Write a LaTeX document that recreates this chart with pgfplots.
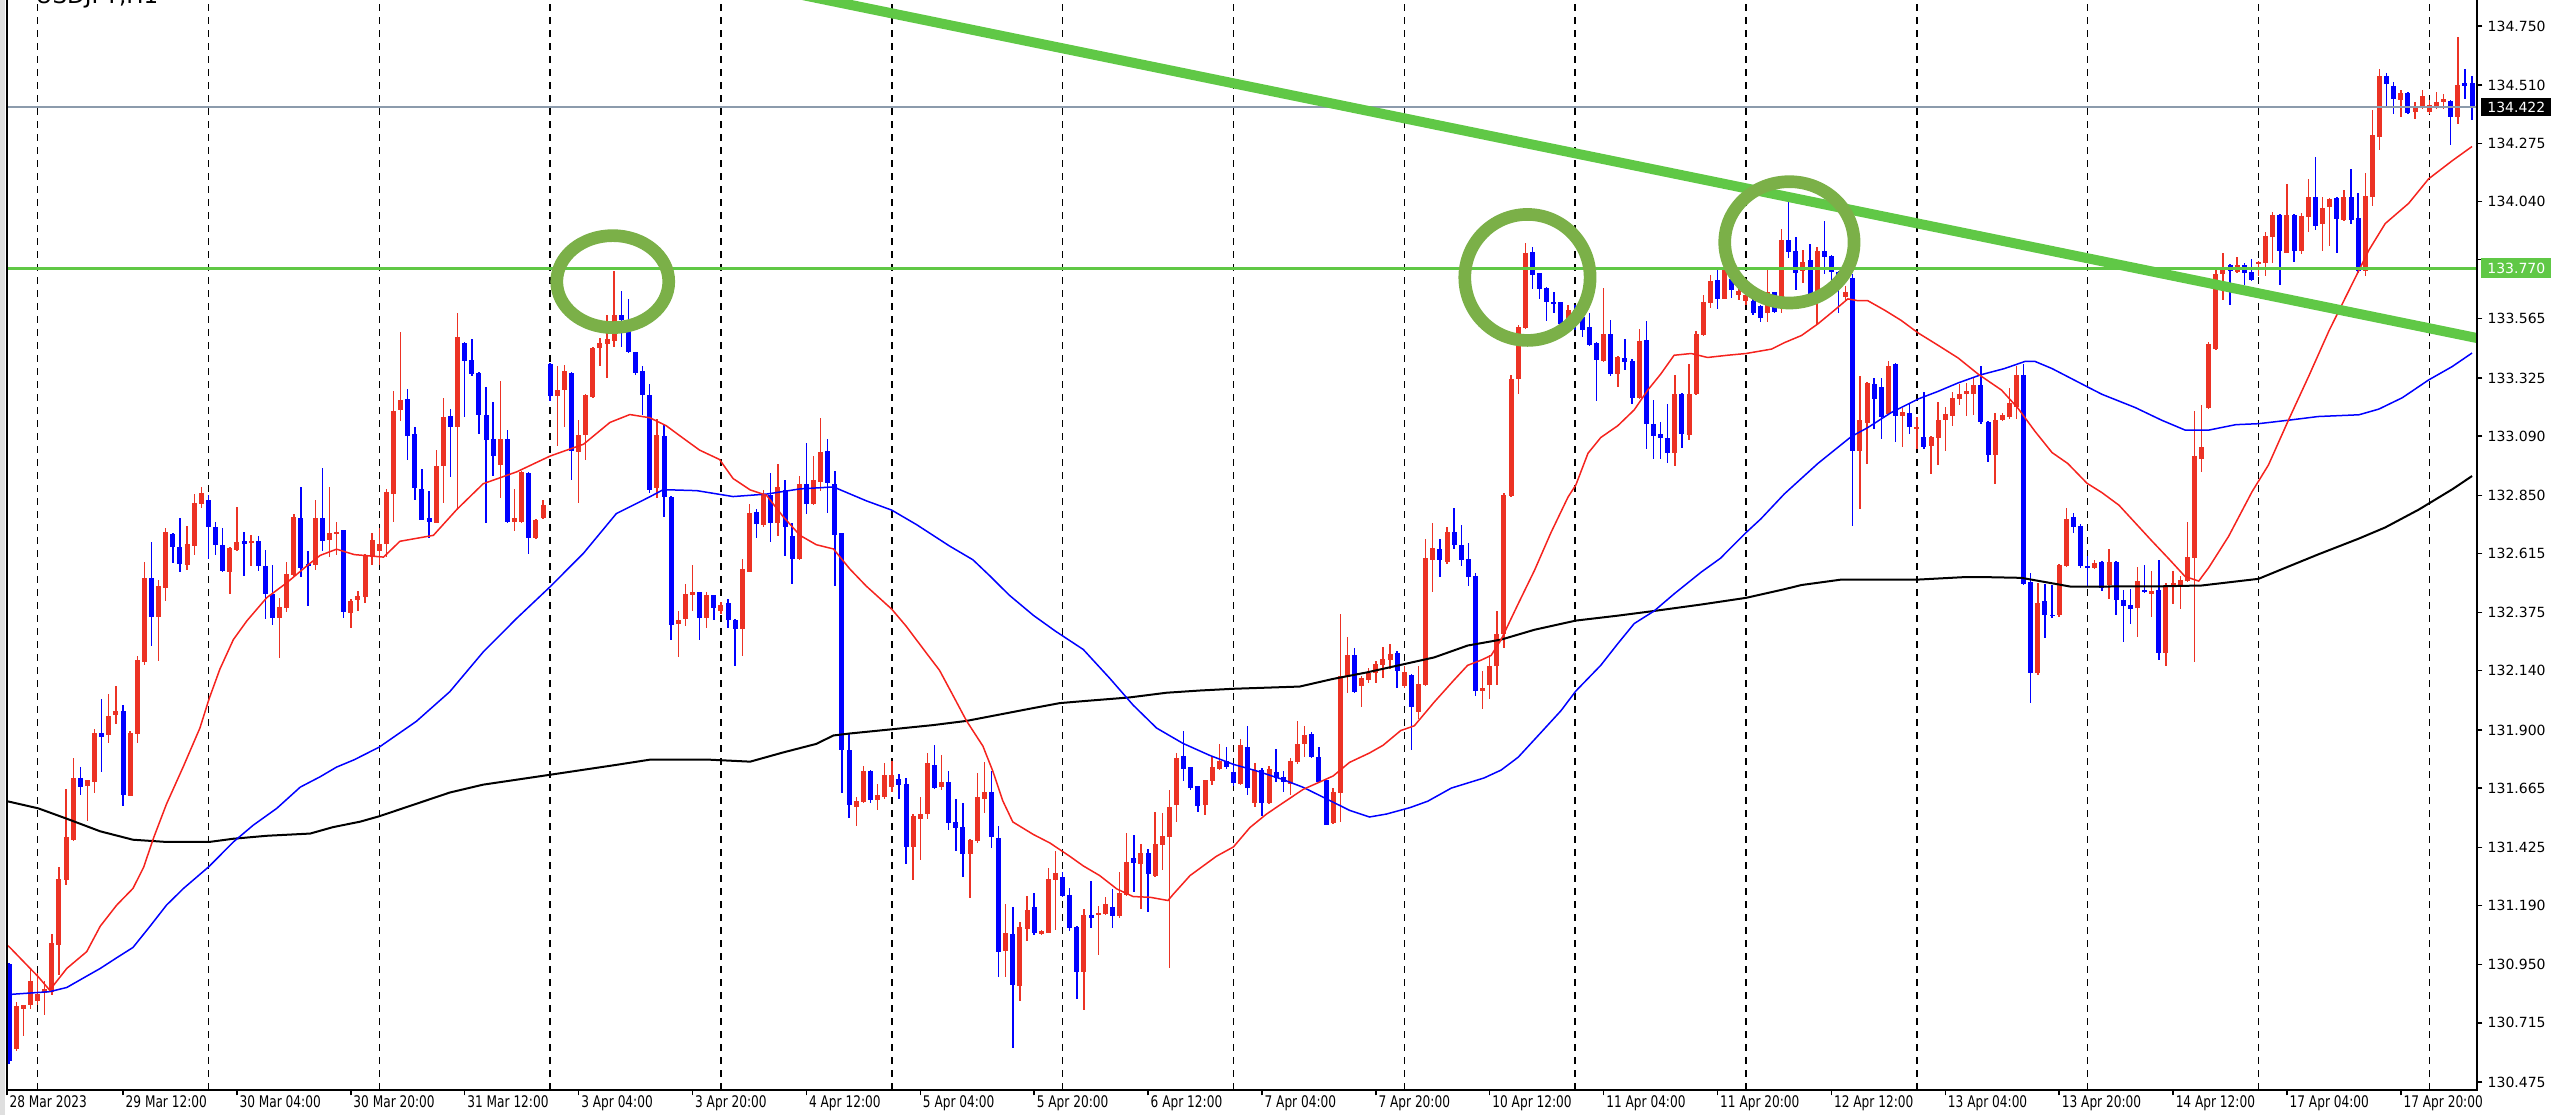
\documentclass[border=0pt]{standalone}
\usepackage{fontspec}
\setmainfont{DejaVu Sans}
\newfontfamily\xfont[FakeStretch=0.76]{DejaVu Sans}
\usepackage{pgfplots}
\pgfplotsset{compat=1.18}
\usepackage{pgfplotstable}
\definecolor{cred}{RGB}{236,50,36}
\definecolor{cblue}{RGB}{0,0,255}
\definecolor{mared}{RGB}{245,35,30}
\definecolor{hgreen}{RGB}{96,200,70}
\definecolor{egreen}{RGB}{123,176,72}
\definecolor{pline}{RGB}{140,155,172}
\newcommand\tfont{\fontsize{4.2pt}{5pt}\selectfont}
\newcommand\xtfont{\fontsize{4.8pt}{5.5pt}\selectfont}

\pgfplotstableread{
i o h l c
-4 130.952 130.960 130.550 130.560
-3 130.611 130.800 130.600 130.782
-2 130.773 130.790 130.662 130.790
-1 130.790 130.935 130.773 130.884
0 130.802 130.918 130.790 130.833
1 130.836 130.884 130.747 130.850
2 130.841 131.075 130.830 131.038
3 131.032 131.348 130.910 131.297
4 131.293 131.663 131.271 131.467
5 131.455 131.788 131.450 131.706
6 131.706 131.750 131.638 131.672
7 131.672 131.700 131.532 131.699
8 131.689 131.907 131.648 131.887
9 131.887 132.027 131.733 131.873
10 131.882 132.047 131.850 131.959
11 131.959 132.081 131.925 131.979
12 131.979 132.001 131.592 131.638
13 131.635 131.895 131.632 131.890
14 131.882 132.201 131.848 132.184
15 132.177 132.581 132.163 132.516
16 132.516 132.661 132.240 132.360
17 132.360 132.505 132.180 132.482
18 132.474 132.718 132.423 132.701
19 132.695 132.700 132.576 132.641
20 132.641 132.760 132.539 132.573
21 132.568 132.726 132.550 132.653
22 132.646 132.854 132.610 132.820
23 132.815 132.883 132.800 132.859
24 132.832 132.849 132.590 132.723
25 132.723 132.743 132.610 132.650
26 132.650 132.718 132.539 132.542
27 132.539 132.640 132.450 132.638
28 132.632 132.803 132.625 132.663
29 132.666 132.701 132.525 132.655
30 132.658 132.690 132.564 132.666
31 132.666 132.684 132.542 132.564
32 132.564 132.632 132.351 132.453
33 132.453 132.568 132.325 132.354
34 132.354 132.436 132.194 132.397
35 132.394 132.581 132.380 132.530
36 132.530 132.777 132.525 132.764
37 132.760 132.883 132.518 132.559
38 132.573 132.624 132.402 132.564
39 132.569 132.832 132.550 132.760
40 132.760 132.962 132.627 132.667
41 132.670 132.883 132.600 132.696
42 132.692 132.743 132.610 132.701
43 132.709 132.710 132.354 132.377
44 132.376 132.430 132.313 132.423
45 132.427 132.464 132.384 132.443
46 132.440 132.612 132.416 132.608
47 132.600 132.700 132.570 132.672
48 132.624 132.720 132.568 132.656
49 132.656 132.876 132.600 132.865
50 132.857 133.273 132.744 133.193
51 133.196 133.510 133.153 133.236
52 133.241 133.281 132.993 133.089
53 133.100 133.129 132.833 132.881
54 132.876 132.956 132.750 132.752
55 132.760 132.870 132.680 132.741
56 132.741 133.033 132.738 132.972
57 132.969 133.244 132.821 133.169
58 133.172 133.201 132.924 133.126
59 133.126 133.591 132.793 133.490
60 133.469 133.470 133.169 133.394
61 133.397 133.482 133.335 133.341
62 133.345 133.350 133.097 133.177
63 133.177 133.289 132.741 133.073
64 133.078 133.228 132.929 133.009
65 132.972 133.313 132.841 133.078
66 133.078 133.113 132.738 132.741
67 132.741 132.876 132.704 132.760
68 132.741 132.950 132.738 132.945
69 132.940 132.945 132.613 132.677
70 132.677 132.755 132.675 132.752
71 132.761 132.833 132.755 132.812
72 133.382 133.385 133.233 133.254
73 133.254 133.373 133.052 133.277
74 133.277 133.377 133.129 133.353
75 133.346 133.350 132.913 133.030
76 133.025 133.153 132.817 133.097
77 133.097 133.260 132.993 133.257
78 133.249 133.453 133.245 133.446
79 133.446 133.485 133.373 133.466
80 133.462 133.581 133.325 133.485
81 133.474 133.757 133.450 133.581
82 133.581 133.677 133.450 133.562
83 133.562 133.645 133.428 133.430
84 133.430 133.432 133.340 133.345
85 133.353 133.373 133.177 133.257
86 133.257 133.302 132.857 132.873
87 132.881 133.161 132.841 133.097
88 133.092 133.137 132.764 132.844
89 132.844 132.846 132.264 132.325
90 132.331 132.384 132.196 132.347
91 132.352 132.491 132.320 132.451
92 132.448 132.568 132.380 132.459
93 132.459 132.460 132.267 132.352
94 132.355 132.458 132.313 132.446
95 132.446 132.448 132.347 132.395
96 132.381 132.420 132.370 132.407
97 132.415 132.432 132.313 132.347
98 132.347 132.350 132.159 132.309
99 132.309 132.594 132.202 132.551
100 132.543 132.816 132.540 132.782
101 132.782 132.794 132.679 132.736
102 132.731 132.872 132.725 132.850
103 132.850 132.940 132.662 132.736
104 132.739 132.975 132.685 132.884
105 132.872 132.913 132.606 132.725
106 132.688 132.739 132.492 132.594
107 132.594 132.927 132.590 132.896
108 132.896 133.063 132.773 132.816
109 132.816 133.012 132.810 132.913
110 132.906 133.166 132.867 133.026
111 133.032 133.077 132.777 132.901
112 132.896 132.947 132.483 132.691
113 132.697 132.700 131.648 131.818
114 131.822 131.886 131.545 131.596
115 131.588 131.630 131.511 131.613
116 131.610 131.753 131.605 131.736
117 131.736 131.740 131.605 131.617
118 131.617 131.681 131.576 131.639
119 131.627 131.767 131.620 131.719
120 131.668 131.775 131.650 131.719
121 131.702 131.724 131.622 131.678
122 131.682 131.707 131.358 131.426
123 131.426 131.560 131.293 131.554
124 131.542 131.630 131.375 131.562
125 131.562 131.809 131.540 131.767
126 131.758 131.838 131.660 131.668
127 131.668 131.801 131.660 131.690
128 131.690 131.733 131.497 131.525
129 131.528 131.622 131.412 131.503
130 131.508 131.605 131.306 131.400
131 131.400 131.460 131.221 131.456
132 131.451 131.729 131.445 131.630
133 131.622 131.770 131.566 131.651
134 131.651 131.733 131.422 131.468
135 131.463 131.514 130.900 131.003
136 131.008 131.195 130.900 131.081
137 131.076 131.184 130.615 130.871
138 130.866 131.122 130.803 131.105
139 131.098 131.229 131.047 131.173
140 131.183 131.241 131.070 131.076
141 131.076 131.092 131.070 131.088
142 131.081 131.344 131.078 131.298
143 131.293 131.410 131.090 131.320
144 131.307 131.327 131.225 131.229
145 131.234 131.260 131.089 131.099
146 131.105 131.108 130.810 130.923
147 130.923 131.176 130.768 131.151
148 131.151 131.291 131.099 131.141
149 131.151 131.187 130.990 131.161
150 131.156 131.223 131.150 131.195
151 131.187 131.257 131.099 131.148
152 131.148 131.327 131.140 131.241
153 131.234 131.486 131.230 131.369
154 131.384 131.477 131.244 131.362
155 131.358 131.440 131.176 131.404
156 131.404 131.420 131.164 131.316
157 131.311 131.570 131.305 131.440
158 131.435 131.564 131.335 131.471
159 131.466 131.657 130.939 131.590
160 131.595 131.808 131.528 131.787
161 131.797 131.896 131.694 131.745
162 131.750 131.752 131.657 131.668
163 131.673 131.675 131.567 131.595
164 131.598 131.700 131.559 131.699
165 131.694 131.792 131.676 131.750
166 131.745 131.843 131.740 131.777
167 131.777 131.831 131.745 131.753
168 131.730 131.769 131.676 131.688
169 131.683 131.862 131.676 131.838
170 131.834 131.916 131.637 131.668
171 131.606 131.769 131.590 131.738
172 131.738 131.745 131.552 131.606
173 131.606 131.753 131.600 131.741
174 131.730 131.823 131.690 131.704
175 131.710 131.735 131.648 131.691
176 131.683 131.785 131.637 131.777
177 131.772 131.939 131.765 131.846
178 131.843 131.916 131.792 131.880
179 131.885 131.892 131.788 131.792
180 131.792 131.831 131.685 131.691
181 131.699 131.700 131.515 131.517
182 131.524 131.668 131.520 131.652
183 131.648 132.371 131.528 132.118
184 132.113 132.278 132.051 132.203
185 132.203 132.234 132.050 132.056
186 132.079 132.120 131.994 132.113
187 132.102 132.153 132.090 132.133
188 132.133 132.180 132.090 132.169
189 132.164 132.237 132.110 132.191
190 132.184 132.250 132.150 132.211
191 132.211 132.220 132.071 132.141
192 132.079 132.160 132.070 132.133
193 132.122 132.126 131.818 131.994
194 131.975 132.162 131.946 132.087
195 132.082 132.675 132.080 132.595
196 132.590 132.739 132.459 132.638
197 132.635 132.675 132.520 132.590
198 132.579 132.723 132.575 132.702
199 132.702 132.799 132.632 132.648
200 132.651 132.731 132.563 132.590
201 132.595 132.659 132.483 132.520
202 132.523 132.536 132.039 132.058
203 132.058 132.138 131.986 132.071
204 132.082 132.202 132.026 132.162
205 132.158 132.382 132.082 132.290
206 132.290 132.859 132.234 132.851
207 132.847 133.337 132.845 133.324
208 133.321 133.541 133.260 133.533
209 133.529 133.872 133.525 133.834
210 133.834 133.856 133.685 133.744
211 133.749 133.752 133.645 133.685
212 133.690 133.692 133.557 133.632
213 133.630 133.674 133.589 133.628
214 133.632 133.635 133.540 133.545
215 133.545 133.621 133.540 133.600
216 133.600 133.620 133.520 133.560
217 133.573 133.605 133.492 133.520
218 133.533 133.589 133.455 133.460
219 133.468 133.470 133.231 133.396
220 133.396 133.690 133.390 133.504
221 133.504 133.561 133.332 133.343
222 133.343 133.415 133.289 133.412
223 133.408 133.484 133.360 133.391
224 133.396 133.400 133.220 133.247
225 133.244 133.524 133.240 133.476
226 133.481 133.557 133.039 133.140
227 133.140 133.236 132.996 133.092
228 133.100 133.148 132.996 133.084
229 133.084 133.220 132.980 133.023
230 133.023 133.340 132.968 133.260
231 133.260 133.265 133.044 133.100
232 133.097 133.385 133.076 133.260
233 133.260 133.517 133.258 133.504
234 133.500 133.661 133.498 133.632
235 133.629 133.741 133.609 133.717
236 133.725 133.765 133.605 133.648
237 133.648 133.781 133.645 133.765
238 133.725 133.740 133.650 133.680
239 133.661 133.700 133.640 133.677
240 133.637 133.680 133.620 133.661
241 133.637 133.645 133.580 133.589
242 133.615 133.620 133.551 133.570
243 133.590 133.768 133.551 133.674
244 133.674 133.676 133.590 133.594
245 133.652 133.927 133.587 133.884
246 133.884 134.043 133.811 133.836
247 133.840 133.898 133.681 133.753
248 133.761 133.845 133.710 133.797
249 133.804 133.869 133.655 133.659
250 133.667 133.855 133.544 133.840
251 133.840 133.963 133.746 133.816
252 133.819 133.825 133.710 133.753
253 133.753 133.757 133.587 133.703
254 133.652 133.700 133.640 133.674
255 133.732 133.746 132.726 133.030
256 133.030 133.334 132.794 133.156
257 133.146 133.310 132.979 133.305
258 133.300 133.324 133.117 133.240
259 133.290 133.327 133.080 133.167
260 133.182 133.392 133.180 133.373
261 133.384 133.388 133.066 133.174
262 133.174 133.204 133.044 133.189
263 133.185 133.225 133.098 133.127
264 133.121 133.167 133.037 133.127
265 133.088 133.269 133.040 133.049
266 133.051 133.090 132.936 133.088
267 133.083 133.228 132.972 133.156
268 133.156 133.211 133.030 133.179
269 133.174 133.271 133.131 133.247
270 133.240 133.300 133.218 133.261
271 133.261 133.305 133.174 133.271
272 133.261 133.324 133.174 133.298
273 133.298 133.373 133.138 133.146
274 133.150 133.152 132.986 133.015
275 133.015 133.185 132.895 133.156
276 133.156 133.185 133.150 133.174
277 133.167 133.286 133.160 133.225
278 133.211 133.373 133.160 133.338
279 133.338 133.384 132.490 132.494
280 132.501 132.538 132.009 132.132
281 132.132 132.494 132.125 132.415
282 132.422 132.494 132.273 132.364
283 132.365 132.487 132.355 132.363
284 132.364 132.574 132.360 132.566
285 132.566 132.798 132.560 132.755
286 132.762 132.779 132.697 132.721
287 132.726 132.736 132.556 132.566
288 132.566 132.603 132.480 132.556
289 132.556 132.590 132.550 132.577
290 132.581 132.585 132.461 132.475
291 132.488 132.632 132.430 132.579
292 132.579 132.585 132.367 132.427
293 132.427 132.467 132.258 132.403
294 132.409 132.470 132.331 132.391
295 132.394 132.561 132.277 132.503
296 132.467 132.571 132.455 132.458
297 132.452 132.543 132.358 132.463
298 132.467 132.590 132.186 132.213
299 132.213 132.494 132.159 132.488
300 132.485 132.543 132.412 132.494
301 132.488 132.525 132.391 132.506
302 132.503 132.742 132.500 132.602
303 132.597 133.190 132.177 133.009
304 133.000 133.217 132.946 133.046
305 133.205 133.471 133.200 133.462
306 133.444 133.773 133.440 133.748
307 133.748 133.833 133.643 133.773
308 133.784 133.786 133.621 133.760
309 133.755 133.815 133.750 133.784
310 133.784 133.790 133.701 133.751
311 133.755 133.806 133.720 133.724
312 133.787 133.800 133.740 133.796
313 133.791 133.918 133.737 133.900
314 133.896 133.995 133.791 133.986
315 133.986 133.990 133.701 133.838
316 133.833 134.110 133.830 133.986
317 133.986 133.988 133.796 133.838
318 133.838 133.995 133.830 133.983
319 133.977 134.131 133.914 134.059
320 134.059 134.218 133.923 133.941
321 133.947 134.059 133.838 134.014
322 134.019 134.055 133.860 134.050
323 134.055 134.058 133.833 133.968
324 133.965 134.086 133.960 134.059
325 134.059 134.171 133.950 133.965
326 133.972 134.073 133.751 133.760
327 133.760 134.153 133.737 134.062
328 134.059 134.412 134.023 134.312
329 134.303 134.575 134.249 134.547
330 134.547 134.562 134.424 134.515
331 134.508 134.526 134.394 134.453
332 134.453 134.493 134.381 134.479
333 134.479 134.485 134.395 134.399
334 134.403 134.442 134.375 134.424
335 134.421 134.493 134.415 134.466
336 134.403 134.450 134.395 134.430
337 134.421 134.484 134.415 134.442
338 134.442 134.475 134.415 134.453
339 134.448 134.450 134.267 134.381
340 134.381 134.707 134.357 134.511
341 134.520 134.575 134.453 134.508
342 134.520 134.547 134.370 134.422
}\candles

\pgfplotstableread{
i v
-4.3 131.030
-3.9 131.020
0.1 130.901
1.7 130.847
4.1 130.935
6.9 131.003
8.8 131.106
11.1 131.191
13.4 131.259
14.9 131.345
16.3 131.464
18.1 131.600
20.5 131.754
22.8 131.908
24.1 132.027
25.6 132.146
27.5 132.266
29.4 132.342
32.2 132.436
35 132.496
37.8 132.564
39.7 132.607
42 132.632
44.5 132.610
48.6 132.600
50.9 132.664
55.6 132.688
58.9 132.793
62.6 132.897
67.3 132.945
72 133.009
76.7 133.057
80.4 133.145
83.2 133.177
86 133.164
88.3 133.132
90.7 133.081
93 133.033
95.8 132.995
97.7 132.918
100.1 132.872
102.4 132.850
104.7 132.765
107.1 132.688
109.4 132.650
111.8 132.633
114.1 132.552
116.4 132.483
120 132.389
122 132.321
124.9 132.210
126.7 132.142
128.6 132.040
130.5 131.937
132.8 131.835
134.2 131.733
135.6 131.613
137 131.528
139.9 131.477
142.2 131.443
145 131.389
146.9 131.350
149.2 131.311
151.6 131.257
153.9 131.226
156.3 131.223
158.8 131.210
159.5 131.234
161.9 131.311
165.6 131.389
168 131.427
170.3 131.505
172.6 131.559
175 131.606
177.8 131.660
179.6 131.683
182 131.714
184.3 131.769
187.1 131.807
189 131.838
191.5 131.898
193.4 131.917
196.2 132.013
199 132.103
200.9 132.162
202.8 132.183
204.2 132.202
205.6 132.266
208 132.411
210.3 132.547
212.6 132.699
215 132.843
216.1 132.892
217.8 133.020
219.6 133.084
222 133.132
224.3 133.196
226.2 133.276
228 133.340
229.9 133.417
232.3 133.424
234.6 133.408
237.4 133.417
240 133.424
243.6 133.442
245.4 133.468
247.8 133.497
250.1 133.544
252.5 133.601
254.3 133.645
255.7 133.638
257.1 133.638
259.5 133.599
261.8 133.558
264.2 133.507
267 133.457
269.8 133.406
272.6 133.341
275.9 133.276
278.2 133.203
280.6 133.109
283 133.023
285.2 132.979
287.9 132.899
290 132.861
292.4 132.810
294.7 132.738
297 132.666
299.4 132.593
301.7 132.521
303.6 132.503
305 132.557
307.8 132.684
311.1 132.865
313.4 132.973
316.2 133.154
319.1 133.335
321.9 133.516
324.7 133.679
327.5 133.842
329.8 133.950
333.1 134.032
335.9 134.131
339.2 134.204
342 134.262
}\mared

\pgfplotstableread{
i v
-4.3 130.829
1.7 130.841
4.1 130.858
6.9 130.904
8.8 130.935
11.1 130.978
13.4 131.020
15.8 131.106
18.1 131.191
20.5 131.259
24.1 131.348
27.5 131.447
30.3 131.515
33.6 131.583
36.9 131.669
39.7 131.711
42 131.750
44.5 131.780
48 131.831
53.2 131.935
57.9 132.055
62.6 132.216
67.3 132.352
72 132.480
76.7 132.616
81.3 132.776
86 132.844
87.9 132.873
92.6 132.869
97.7 132.845
102.4 132.855
107.1 132.876
111.8 132.884
116.4 132.828
120 132.790
123.5 132.731
128.1 132.645
131.4 132.589
133.7 132.526
136.5 132.446
139.9 132.364
143 132.300
146.9 132.226
150.6 132.110
153.9 132.001
157.2 131.908
160.9 131.846
164.7 131.797
168 131.761
171.2 131.735
175 131.699
177.8 131.668
181.1 131.621
184.3 131.575
187.1 131.548
189.5 131.560
192.8 131.586
195.3 131.612
198.6 131.665
203.2 131.706
205.6 131.738
208 131.790
211.2 131.890
214 131.978
216.1 132.058
219.6 132.162
222 132.250
224.3 132.331
227.1 132.382
229.9 132.451
233.7 132.539
236.4 132.595
240 132.699
242.1 132.755
245.4 132.856
250.1 132.979
254.8 133.088
257.1 133.124
260.4 133.185
264.2 133.240
267 133.271
269.8 133.305
273 133.338
276.3 133.363
279.2 133.392
280.6 133.392
283 133.363
287.9 133.290
290 133.259
294.7 133.205
298.4 133.154
301.7 133.114
305 133.114
308.8 133.136
312 133.140
316.2 133.154
320.4 133.169
326.1 133.176
328.9 133.199
332.2 133.245
335.9 133.317
339.2 133.371
342 133.426
}\mablue

\pgfplotstableread{
i v
-4.3 131.612
0.1 131.583
4.1 131.541
8.8 131.490
13.4 131.456
18.1 131.447
24.1 131.447
27.5 131.460
32.2 131.472
38.3 131.481
41.5 131.507
45.3 131.529
48 131.551
57.9 131.647
62.6 131.679
72 131.719
81.3 131.759
86 131.780
94.4 131.780
100.1 131.772
104.7 131.809
109.4 131.844
111.8 131.878
114.1 131.886
120 131.903
125.8 131.920
130.5 131.937
135.2 131.963
139.9 131.989
143.6 132.009
146.9 132.017
153.4 132.032
158.6 132.051
163.3 132.060
168 132.067
177.3 132.076
182 132.107
186.7 132.133
192 132.167
196.2 132.194
200.9 132.242
205.6 132.266
210.3 132.306
216.1 132.343
222 132.363
227.1 132.382
233.7 132.408
240 132.435
245.4 132.470
247.8 132.487
253.4 132.509
264.2 132.509
270.7 132.519
273.5 132.519
278.7 132.516
283 132.494
285.7 132.480
291.3 132.481
297 132.481
304 132.485
312 132.512
315.8 132.557
320.4 132.611
326.1 132.675
329.8 132.720
334.5 132.792
339.2 132.874
342 132.928
}\mablack

\pgfplotsset{
  wick/.style={draw=none, mark=none, forget plot, error bars/.cd, y dir=both, y explicit, error mark=none, error bar style={line width=0.42pt, draw=#1, solid}},
  body/.style={draw=none, mark=none, forget plot, error bars/.cd, y dir=both, y explicit, error mark=none, error bar style={line width=1.5pt, draw=#1, solid}},
}

\begin{document}
\begin{tikzpicture}[x=1pt,y=1pt]
\useasboundingbox (0,0) rectangle (768,334.5);
\fill[gray!25] (0,0) rectangle (1.4,334.5);
\begin{axis}[
  at={(2.1pt,7.5pt)}, anchor=south west,
  scale only axis, width=741pt, height=327pt,
  xmin=-4.3, xmax=342.7, ymin=130.443, ymax=134.855,
  axis line style={draw=none},
  tick align=outside, major tick length=1.6pt,
  tick style={black, line width=0.45pt},
  ytick={130.475,130.715,130.950,131.190,131.425,131.665,131.900,132.140,132.375,132.615,132.850,133.090,133.325,133.565,133.805,134.040,134.275,134.510,134.750},
  yticklabels={130.475,130.715,130.950,131.190,131.425,131.665,131.900,132.140,132.375,132.615,132.850,133.090,133.325,133.565,,134.040,134.275,134.510,134.750},
  ytick pos=right, yticklabel pos=right,
  yticklabel style={font=\tfont, anchor=west, inner sep=0pt, xshift=1.4pt},
  xtick={-4.3,12,28,44,60,76,92,108,124,140,156,172,188,204,220,236,252,268,284,300,316,332},
  xticklabels={28 Mar 2023,29 Mar 12:00,30 Mar 04:00,30 Mar 20:00,31 Mar 12:00,3 Apr 04:00,3 Apr 20:00,4 Apr 12:00,5 Apr 04:00,5 Apr 20:00,6 Apr 12:00,7 Apr 04:00,7 Apr 20:00,10 Apr 12:00,11 Apr 04:00,11 Apr 20:00,12 Apr 12:00,13 Apr 04:00,13 Apr 20:00,14 Apr 12:00,17 Apr 04:00,17 Apr 20:00},
  xtick pos=bottom, xticklabel pos=bottom,
  xticklabel style={font=\xfont\xtfont, anchor=north west, inner sep=0pt, xshift=0.6pt},
  minor xtick={0,24,48,72,96,120,144,168,192,216,240,264,288,312,336},
  minor tick length=0pt,
  xminorgrids=true,
  minor x grid style={black, line width=0.45pt, dash pattern=on 2pt off 1.9pt},
]
% wicks
\addplot[wick=cred] table[x expr={\thisrow{c}<\thisrow{o} ? nan : \thisrow{i}}, y expr={(\thisrow{h}+\thisrow{l})/2}, y error expr={(\thisrow{h}-\thisrow{l})/2}] {\candles};
\addplot[wick=cblue] table[x expr={\thisrow{c}<\thisrow{o} ? \thisrow{i} : nan}, y expr={(\thisrow{h}+\thisrow{l})/2}, y error expr={(\thisrow{h}-\thisrow{l})/2}] {\candles};
% bodies
\addplot[body=cred] table[x expr={\thisrow{c}<\thisrow{o} ? nan : \thisrow{i}}, y expr={(\thisrow{o}+\thisrow{c})/2}, y error expr={max(abs(\thisrow{c}-\thisrow{o})/2,0.0035)}] {\candles};
\addplot[body=cblue] table[x expr={\thisrow{c}<\thisrow{o} ? \thisrow{i} : nan}, y expr={(\thisrow{o}+\thisrow{c})/2}, y error expr={max(abs(\thisrow{c}-\thisrow{o})/2,0.0035)}] {\candles};
% moving averages
\addplot[black, line width=0.6pt, no marks] table[x=i,y=v] {\mablack};
\addplot[cblue, line width=0.45pt, no marks] table[x=i,y=v] {\mablue};
\addplot[mared, line width=0.45pt, no marks] table[x=i,y=v] {\mared};
% price line and levels
\addplot[pline, line width=0.45pt, no marks] coordinates {(-5,134.422) (345,134.422)};
\addplot[hgreen, line width=0.9pt, no marks] coordinates {(-5,133.770) (345,133.770)};
\addplot[hgreen, line width=3pt, no marks] coordinates {(100,134.919) (345,133.473)};
% circles
\draw[egreen, line width=3.8pt] (axis cs:80.8,133.715) ellipse [x radius=16.8pt, y radius=13.8pt];
\draw[egreen, line width=3.8pt] (axis cs:209.3,133.732) ellipse [x radius=18.8pt, y radius=18.9pt];
\draw[egreen, line width=3.8pt] (axis cs:246.1,133.874) ellipse [x radius=19.4pt, y radius=18.2pt];
\coordinate (p422) at (axis cs:0,134.422);
\coordinate (p770) at (axis cs:0,133.770);
\end{axis}
% frame
\draw[black, line width=0.5pt] (2.1,7.5) -- (2.1,334.5);
\draw[black, line width=0.5pt] (2.1,7.5) -- (743.1,7.5) -- (743.1,334.5);
\coordinate (R) at (744.2,0);
\node[fill=black, text=white, font=\tfont, inner sep=0pt, minimum width=21pt, minimum height=5.6pt, anchor=west] at (R |- p422) {134.422};
\node[fill=hgreen, text=white, font=\tfont, inner sep=0pt, minimum width=21pt, minimum height=6pt, anchor=west] at (R |- p770) {133.770};
\node[anchor=base west, font=\fontsize{6.9pt}{8pt}\selectfont, inner sep=0pt] at (10.5,333.3) {USDJPY,H1};
\end{tikzpicture}
\end{document}
